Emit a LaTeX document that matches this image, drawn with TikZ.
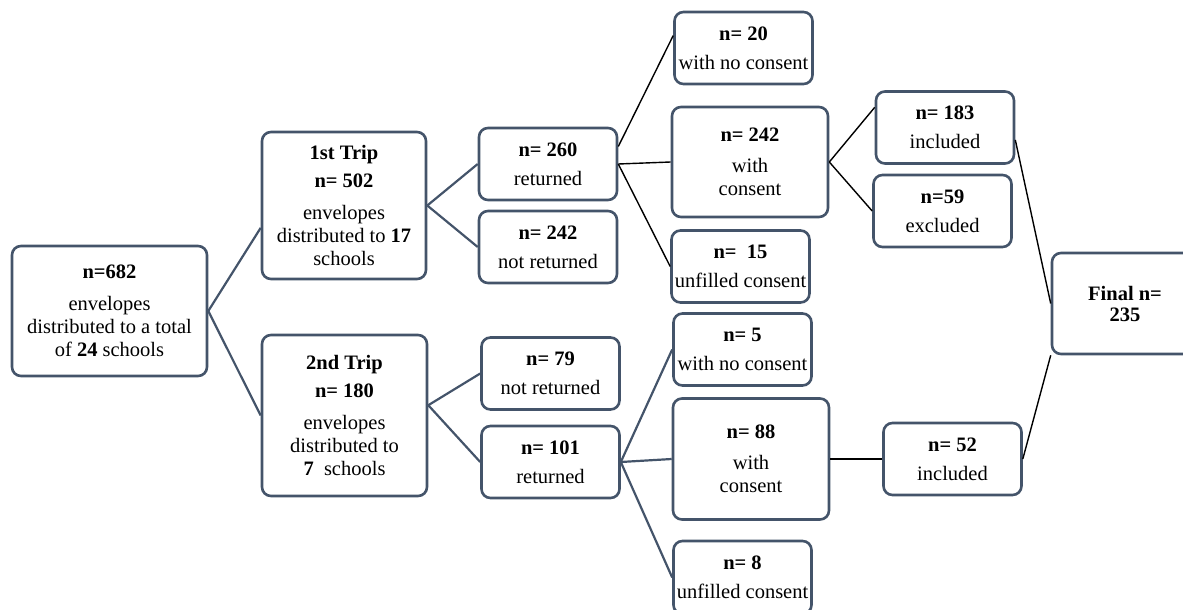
\documentclass[tikz,border=0pt]{standalone}
\usepackage{fontspec}
\setmainfont{Liberation Serif}
\usetikzlibrary{calc, positioning}
\definecolor{slate}{RGB}{68,84,106}

\begin{document}
\begin{tikzpicture}[
    x=1pt, y=-1pt,
    flow/.style={draw=slate, line width=2.6pt, rounded corners=9pt, align=center,
        inner sep=0pt, font=\fontsize{20.5}{23}\selectfont},
    smallbox/.style={flow, minimum width=138pt, minimum height=72pt},
    widebox/.style={flow, minimum width=156pt},
    sline/.style={draw=slate, line width=2.2pt},
    bline/.style={draw=black, line width=1.4pt}
]

\useasboundingbox (0,0) rectangle (1183,610);

% Nodes ------------------------------------------------------

\node[flow, minimum width=195pt, minimum height=130pt] (total) at (109.5,311)
    {\textbf{n=682}\\[9pt] envelopes\\ distributed to a total\\ of \textbf{24} schools};

\node[flow, minimum width=164pt, minimum height=147pt] (trip1) at (344,205.5)
    {\textbf{1st Trip}\\[5pt] \textbf{n= 502}\\[9pt] envelopes\\ distributed to \textbf{17}\\ schools};
\node[flow, minimum width=165pt, minimum height=161pt] (trip2) at (344.5,415.5)
    {\textbf{2nd Trip}\\[5pt] \textbf{n= 180}\\[9pt] envelopes\\ distributed to\\ \textbf{7}\ \ schools};

\node[smallbox] (ret1) at (548,164) {\textbf{n= 260}\\[6pt] returned};
\node[smallbox] (noret1) at (548,247) {\textbf{n= 242}\\[6pt] not returned};
\node[smallbox] (noret2) at (550.5,373.5) {\textbf{n= 79}\\[6pt] not returned};
\node[smallbox] (ret2) at (550.5,462) {\textbf{n= 101}\\[6pt] returned};

\node[smallbox] (nocons1) at (743.5,48) {\textbf{n= 20}\\[6pt] with no consent};
\node[widebox, minimum height=110pt] (cons1) at (750,162) {\textbf{n= 242}\\[8pt] with\\ consent};
\node[smallbox] (unfill1) at (740.5,266.5) {\textbf{n=\ \ 15}\\[6pt] unfilled consent};

\node[smallbox] (nocons2) at (742.5,349.5) {\textbf{n= 5}\\[6pt] with no consent};
\node[widebox, minimum height=121pt] (cons2) at (751,459) {\textbf{n= 88}\\[8pt] with\\ consent};
\node[smallbox, minimum height=73pt] (unfill2) at (742.5,577.5) {\textbf{n= 8}\\[6pt] unfilled consent};

\node[smallbox] (incl1) at (945,127.5) {\textbf{n= 183}\\[6pt] included};
\node[smallbox] (excl1) at (942.5,211) {\textbf{n=59}\\[6pt] excluded};
\node[smallbox] (incl2) at (952.5,459) {\textbf{n= 52}\\[6pt] included};

\node[flow, minimum width=146pt, minimum height=101pt] (final) at (1125,303.5)
    {\textbf{Final n=}\\[-2pt] \textbf{235}};

% Connectors -------------------------------------------------

\draw[sline] (total.east) -- (trip1.195);
\draw[sline] (total.east) -- (trip2.west);

\draw[sline] (trip1.east) -- (ret1.west);
\draw[sline] (trip1.east) -- (noret1.west);
\draw[sline] (trip2.7) -- (noret2.west);
\draw[sline] (trip2.7) -- (ret2.west);

\draw[bline] (ret1.14) -- (nocons1.170);
\draw[bline] (ret1.east) -- (cons1.west);
\draw[bline] (ret1.east) -- (unfill1.west);

\draw[sline] (ret2.east) -- (nocons2.west);
\draw[sline] (ret2.east) -- (cons2.west);
\draw[sline] (ret2.east) -- (unfill2.west);

\draw[bline] (cons1.east) -- (incl1.164);
\draw[bline] (cons1.east) -- (excl1.west);
\draw[bline] (cons2.east) -- (incl2.west);

\draw[bline] (incl1.-10) -- (final.west);
\draw[bline] (incl2.east) -- (final.south west);

\end{tikzpicture}
\end{document}
